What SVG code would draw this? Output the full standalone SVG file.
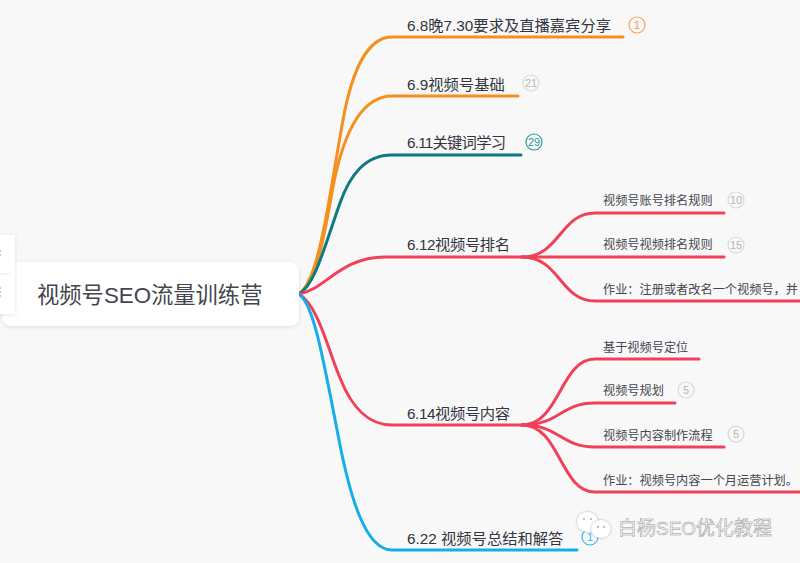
<svg xmlns="http://www.w3.org/2000/svg" width="800" height="563" viewBox="0 0 800 563">
<defs>
<filter id="sh" x="-10%" y="-30%" width="120%" height="160%"><feDropShadow dx="0" dy="1" stdDeviation="2" flood-color="#000" flood-opacity="0.1"/></filter>
<filter id="ws" x="-30%" y="-30%" width="160%" height="160%"><feDropShadow dx="0" dy="0" stdDeviation="0.8" flood-color="#000" flood-opacity="0.4"/></filter>
</defs>
<style>
text{font-family:"Liberation Sans","Noto Sans CJK SC",sans-serif}
.l{fill:none;stroke-width:3;stroke-linecap:round}
.o{stroke:#f5901e}.t{stroke:#0d7a80}.r{stroke:#f0405a}.b{stroke:#16aeea}
.m{font-size:15.3px;fill:#33343f}
.s{font-size:12.2px;fill:#45464f}
.c{fill:none;stroke-width:1.2}
.n{font-size:11px;text-anchor:middle}
.g{stroke:#d8d8d8}.gt{fill:#b5b5b5}
</style>
<rect width="800" height="563" fill="#f8f8f8"/>
<g id="connectors">
<path class="l o" d="M299 294C320 280 330 190 343 120C352 70 368 37 392 37H623"/>
<path class="l o" d="M299 294C318 280 326 225 333 187C343 135 360 96 392 96H518"/>
<path class="l t" d="M299 294C315 285 325 245 340 203C350 175 365 155 392 155H521"/>
<path class="l r" d="M299 294C325 290 340 257 385 257H522"/>
<path class="l r" d="M299 294C318 305 328 350 340 378C352 408 368 425 392 425H522"/>
<path class="l b" d="M299 294C315 305 325 370 340 445C350 495 365 550 392 550H577"/>
<path class="l r" d="M522 257C560 257 560 213 595 213H724"/>
<path class="l r" d="M522 257H724"/>
<path class="l r" d="M522 257C560 257 560 301 595 301H800"/>
<path class="l r" d="M522 425C560 425 560 359 595 359H699"/>
<path class="l r" d="M522 425C560 425 560 403 595 403H675"/>
<path class="l r" d="M522 425C560 425 560 447 595 447H724"/>
<path class="l r" d="M522 425C560 425 560 492 595 492H800"/>
</g>
<g id="root"><rect x="2" y="262" width="297" height="64" rx="9" fill="#fff" filter="url(#sh)"/><text x="37" y="303" font-size="22.3" fill="#44454d">视频号SEO流量训练营</text></g>
<g id="side-panel"><rect x="-6" y="235" width="21" height="79" fill="#fff" filter="url(#sh)"/><path d="M0 274H10" stroke="#e6e6e6"/><path d="M0 250V256M0 287V299" stroke="#999" stroke-dasharray="2 2"/></g>
<g id="n1"><text class="m" x="407" y="31">6.8晚7.30要求及直播嘉宾分享</text><circle class="c" cx="637" cy="25" r="8" stroke="#f5a24a"/><text class="n" x="637" y="29" fill="#f09a3e">1</text></g>
<g id="n2"><text class="m" x="407" y="90">6.9视频号基础</text><circle class="c g" cx="531" cy="83" r="8"/><text class="n gt" x="531" y="87">21</text></g>
<g id="n3"><text class="m" x="407" y="148" textLength="99">6.11关键词学习</text><circle class="c" cx="534" cy="142" r="8" stroke="#2a9a9f"/><text class="n" x="534" y="146" fill="#2a9a9f">29</text></g>
<g id="n4"><text class="m" x="407" y="250" textLength="103">6.12视频号排名</text></g>
<g id="n4a"><text class="s" x="603" y="205">视频号账号排名规则</text><circle class="c g" cx="736" cy="200" r="8"/><text class="n gt" x="736" y="204">10</text></g>
<g id="n4b"><text class="s" x="603" y="249">视频号视频排名规则</text><circle class="c g" cx="736" cy="245" r="8"/><text class="n gt" x="736" y="249">15</text></g>
<g id="n4c"><text class="s" x="603" y="294">作业：注册或者改名一个视频号，并</text></g>
<g id="n5"><text class="m" x="407" y="419" textLength="103">6.14视频号内容</text></g>
<g id="n5a"><text class="s" x="603" y="352">基于视频号定位</text></g>
<g id="n5b"><text class="s" x="603" y="395">视频号规划</text><circle class="c g" cx="686" cy="390" r="8"/><text class="n gt" x="686" y="394">5</text></g>
<g id="n5c"><text class="s" x="603" y="440">视频号内容制作流程</text><circle class="c g" cx="736" cy="434" r="8"/><text class="n gt" x="736" y="438">5</text></g>
<g id="n5d"><text class="s" x="603" y="485">作业：视频号内容一个月运营计划。</text></g>
<g id="n6"><text class="m" x="407" y="544">6.22 视频号总结和解答</text><circle class="c" cx="590" cy="537" r="8" stroke="#38b6ea"/><text class="n" x="590" y="541" fill="#38b6ea">1</text></g>
<g id="watermark"><ellipse cx="587.5" cy="522" rx="10.5" ry="10" fill="#fff" filter="url(#ws)"/><ellipse cx="601" cy="529" rx="9.5" ry="9" fill="#fff" filter="url(#ws)"/><path d="M583 519h2M590 519h2M597 527h2M603 527h2" stroke="#aaa" stroke-width="1.5"/><text x="618" y="535" font-size="19" fill="#fff" stroke="#8e8e8e" stroke-width="0.5">白杨SEO优化教程</text></g>
</svg>
